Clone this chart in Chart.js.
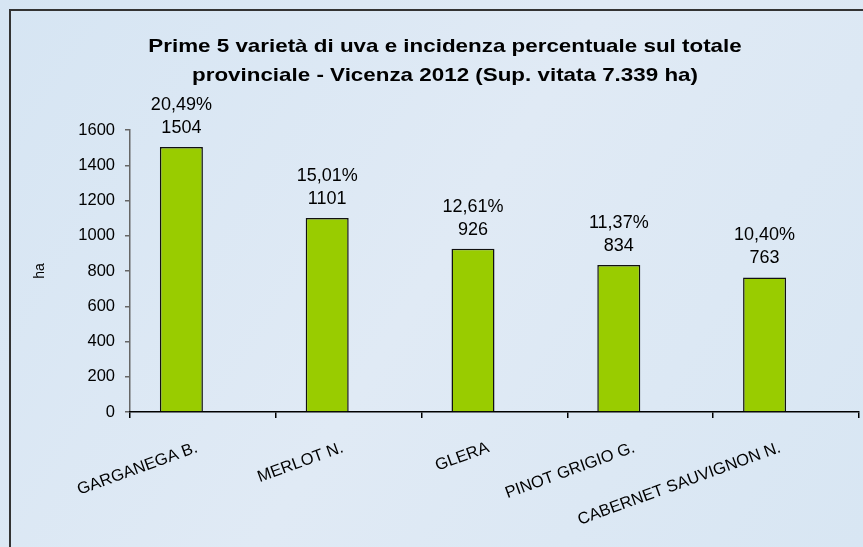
<!DOCTYPE html>
<html lang="it">
<head>
<meta charset="UTF-8">
<title>Prime 5 varietà di uva - Vicenza 2012</title>
<script src="https://cdn.jsdelivr.net/npm/chart.js"></script>
<style>
  html, body { margin: 0; padding: 0; background: #dae6f2; }
  #wrap { position: relative; width: 863px; height: 547px; }
</style>
</head>
<body>
<div id="wrap"><canvas id="chart" width="863" height="547"></canvas></div>
<script>
// data (ha, Vicenza 2012)
const varieties = ['GARGANEGA B.', 'MERLOT N.', 'GLERA', 'PINOT GRIGIO G.', 'CABERNET SAUVIGNON N.'];
const hectares = [1504, 1101, 926, 834, 763];
const shareLabels = ['20,49%', '15,01%', '12,61%', '11,37%', '10,40%'];
// the original has an empty second series, which pushes the bars to the left
const emptySeries = [null, null, null, null, null];
const yTicks = [0, 200, 400, 600, 800, 1000, 1200, 1400, 1600];
const titleLines = ['Prime 5 varietà di uva e incidenza percentuale sul totale',
                    'provinciale - Vicenza 2012 (Sup. vitata 7.339 ha)'];

const FONT = '"Liberation Sans", Arial, sans-serif';

// light blue background, the dark frame and the (slightly stretched) title
const backdrop = {
  id: 'backdrop',
  beforeDraw(chart) {
    const ctx = chart.ctx;
    ctx.save();
    const g = ctx.createLinearGradient(0, 0, chart.width, chart.height);
    g.addColorStop(0, '#d6e5f3');
    g.addColorStop(0.5, '#e0eaf5');
    g.addColorStop(1, '#d8e6f3');
    ctx.fillStyle = g;
    ctx.fillRect(0, 0, chart.width, chart.height);
    ctx.strokeStyle = '#333';
    ctx.lineWidth = 2;
    ctx.strokeRect(10, 10, chart.width + 20, chart.height + 20);

    // title, wider than plain Arial bold like in the original
    ctx.fillStyle = '#000';
    ctx.font = 'bold 18.5px ' + FONT;
    ctx.textAlign = 'center';
    ctx.textBaseline = 'middle';
    ctx.translate(445, 0);
    ctx.scale(1.21, 1);
    ctx.fillText(titleLines[0], 0, 47);
    ctx.fillText(titleLines[1], 0, 76);
    ctx.restore();
  }
};

// two-line labels above each bar: share and hectares
const barLabels = {
  id: 'barLabels',
  afterDatasetsDraw(chart) {
    const ctx = chart.ctx;
    const meta = chart.getDatasetMeta(0);
    ctx.save();
    ctx.font = '18px ' + FONT;
    ctx.fillStyle = '#000';
    ctx.textAlign = 'center';
    ctx.textBaseline = 'middle';
    meta.data.forEach((bar, i) => {
      ctx.fillText(String(hectares[i]), bar.x, bar.y - 19);
      ctx.fillText(shareLabels[i], bar.x, bar.y - 42);
    });
    ctx.restore();
  }
};

new Chart(document.getElementById('chart'), {
  type: 'bar',
  data: {
    labels: varieties,
    datasets: [
      {
        label: 'ha',
        data: hectares,
        backgroundColor: '#99cc00',
        borderColor: '#111',
        borderWidth: 1.5,
        categoryPercentage: 0.59,
        barPercentage: 1.0
      },
      {
        label: '',
        data: emptySeries,
        categoryPercentage: 0.59,
        barPercentage: 1.0
      }
    ]
  },
  options: {
    responsive: false,
    animation: false,
    layout: { padding: { left: 20, right: 4, top: 130, bottom: 0 } },
    plugins: {
      legend: { display: false },
      tooltip: { enabled: false },
      title: { display: false }
    },
    scales: {
      y: {
        min: 0,
        max: 1600,
        afterBuildTicks: s => { s.ticks = yTicks.map(v => ({ value: v })); },
        afterFit: s => { s.width = 110; },
        ticks: {
          color: '#000',
          font: { family: FONT, size: 16.5 },
          padding: 10,
          callback: v => String(v)
        },
        grid: { drawOnChartArea: false, drawTicks: true, tickLength: 5, color: '#666', lineWidth: 1.5 },
        border: { display: true, color: '#666', width: 1.5 },
        title: {
          display: true,
          text: 'ha',
          color: '#000',
          font: { family: FONT, size: 14 },
          padding: { top: 12, bottom: 0 }
        }
      },
      x: {
        afterFit: s => { s.height = 135; },
        ticks: {
          color: '#000',
          font: { family: FONT, size: 16.5 },
          minRotation: 20,
          maxRotation: 20,
          padding: 20,
          labelOffset: -6
        },
        grid: { offset: true, drawOnChartArea: false, drawTicks: true, tickLength: 6, color: '#000', lineWidth: 1.5 },
        border: { display: true, color: '#000', width: 1.5 }
      }
    }
  },
  plugins: [backdrop, barLabels]
});
</script>
</body>
</html>
